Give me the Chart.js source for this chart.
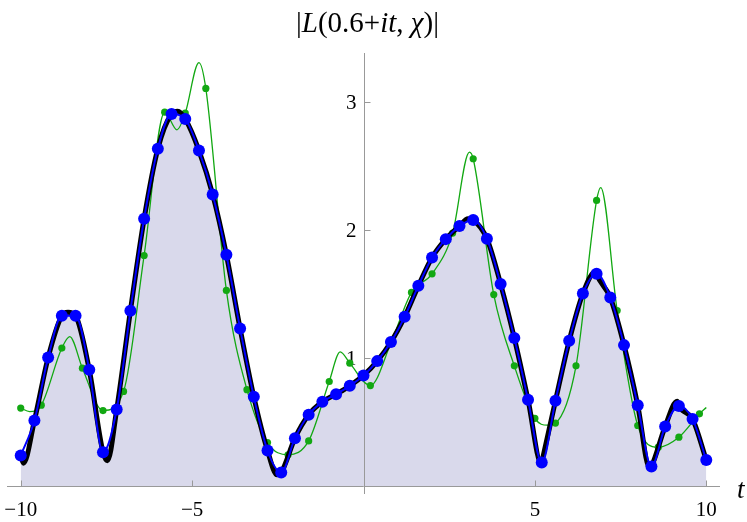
<!DOCTYPE html>
<html lang="en">
<head>
<meta charset="UTF-8">
<title>|L(0.6+it, χ)|</title>
<script src="https://cdn.jsdelivr.net/npm/chart.js"></script>
<style>
  body { margin: 0; background: #ffffff; }
  #wrap { width: 747px; height: 522px; position: relative; }
</style>
</head>
<body>
<div id="wrap"><canvas id="chart" width="747" height="522"></canvas></div>
<script>
// sample points on |L| (blue dots, step 0.4)
const blueT = [-10, -9.6, -9.2, -8.8, -8.4, -8.0, -7.6, -7.2, -6.8, -6.4,
               -6.0, -5.6, -5.2, -4.8, -4.4, -4.0, -3.6, -3.2, -2.8, -2.4,
               -2.0, -1.6, -1.2, -0.8, -0.4, 0, 0.4, 0.8, 1.2, 1.6,
               2.0, 2.4, 2.8, 3.2, 3.6, 4.0, 4.4, 4.8, 5.2, 5.6,
               6.0, 6.4, 6.8, 7.2, 7.6, 8.0, 8.4, 8.8, 9.2, 9.6, 10];
const blueV = [0.24, 0.514, 1.006, 1.332, 1.332, 0.91, 0.267, 0.60, 1.371, 2.09,
               2.637, 2.908, 2.869, 2.623, 2.28, 1.809, 1.233, 0.70, 0.28, 0.108,
               0.376, 0.559, 0.66, 0.72, 0.785, 0.866, 0.978, 1.127, 1.324, 1.566,
               1.788, 1.931, 2.033, 2.08, 1.934, 1.58, 1.158, 0.676, 0.186, 0.668,
               1.137, 1.506, 1.66, 1.475, 1.103, 0.634, 0.155, 0.467, 0.627, 0.525, 0.205];

// extra points read at the turning points of the black curve
const peakT = [-9.92, -8.62, -7.47, -5.42, -2.52, 3.05, 5.19, 6.78, 8.35, 9.15];
const peakV = [0.18, 1.36, 0.2, 2.93, 0.09, 2.09, 0.175, 1.68, 0.14, 0.665];

// approximation (green dots, step 0.6)
const greenT = [-10, -9.4, -8.8, -8.2, -7.6, -7.0, -6.4, -5.8, -5.2, -4.6,
                -4.0, -3.4, -2.8, -2.2, -1.6, -1.0, -0.4, 0.2, 0.8, 1.4,
                2.0, 2.6, 3.2, 3.8, 4.4, 5.0, 5.6, 6.2, 6.8, 7.4,
                8.0, 8.6, 9.2, 9.8];
const greenV = [0.611, 0.634, 1.08, 0.923, 0.592, 0.741, 1.803, 2.923, 2.916, 3.108,
                1.53, 0.755, 0.342, 0.246, 0.355, 0.819, 0.962, 0.787, 1.12, 1.515,
                1.66, 1.978, 2.559, 1.498, 0.941, 0.53, 0.494, 0.941, 2.233, 1.373,
                0.475, 0.306, 0.384, 0.566];
// turning points of the green curve between its dots
const greenExtraT = [-9.74, -8.57, -5.44, -4.8, -0.68, 3.09, 5.37, 6.92, 10];
const greenExtraV = [0.584, 1.17, 2.785, 3.31, 1.05, 2.61, 0.478, 2.334, 0.616];

const xTicks = [-10, -5, 5, 10];
const yTicks = [1, 2, 3];

function pts(ts, vs) {
  return ts.map((t, i) => ({ x: t, y: vs[i] }));
}
function merged(ta, va, tb, vb) {
  return pts(ta, va).concat(pts(tb, vb)).sort((a, b) => a.x - b.x);
}

const SERIF = '"Liberation Serif", "DejaVu Serif", serif';

// axes through the origin, Mathematica style
const axesPlugin = {
  id: 'originAxes',
  beforeDatasetsDraw(chart) {
    const { ctx, chartArea: a, scales: { x, y } } = chart;
    const x0 = Math.round(x.getPixelForValue(0)) + 0.5;
    const y0 = Math.round(y.getPixelForValue(0)) + 0.5;
    ctx.save();
    ctx.strokeStyle = '#999999';
    ctx.lineWidth = 1;
    ctx.beginPath();
    ctx.moveTo(a.left, y0); ctx.lineTo(a.right, y0);
    ctx.moveTo(x0, a.top); ctx.lineTo(x0, a.bottom);
    xTicks.forEach(v => {
      const px = Math.round(x.getPixelForValue(v)) + 0.5;
      ctx.moveTo(px, y0); ctx.lineTo(px, y0 - 6);
    });
    yTicks.forEach(v => {
      const py = Math.round(y.getPixelForValue(v)) + 0.5;
      ctx.moveTo(x0, py); ctx.lineTo(x0 + 6, py);
    });
    ctx.stroke();

    ctx.fillStyle = '#000000';
    ctx.font = '21px ' + SERIF;
    ctx.textAlign = 'center';
    ctx.textBaseline = 'alphabetic';
    xTicks.forEach(v => {
      const s = v < 0 ? '\u2212' + Math.abs(v) : String(v);
      ctx.fillText(s, x.getPixelForValue(v), y0 + 29);
    });
    ctx.textAlign = 'right';
    ctx.textBaseline = 'middle';
    yTicks.forEach(v => {
      ctx.fillText(String(v), x0 - 8, y.getPixelForValue(v) + 1);
    });
    ctx.textAlign = 'left';
    ctx.textBaseline = 'alphabetic';
    ctx.font = 'italic 27px ' + SERIF;
    ctx.fillText('t', a.right + 17, y0 + 11);
    ctx.restore();
  },
  afterDraw(chart) {
    const { ctx } = chart;
    const parts = [['|', false], ['L', true], ['(0.6+', false], ['it', true],
                   [', ', false], ['\u03c7', true], [')|', false]];
    const size = '29px ';
    ctx.save();
    ctx.fillStyle = '#000000';
    ctx.textBaseline = 'alphabetic';
    ctx.textAlign = 'left';
    let total = 0;
    parts.forEach(p => {
      ctx.font = (p[1] ? 'italic ' : '') + size + SERIF;
      total += ctx.measureText(p[0]).width;
    });
    let cx = chart.scales.x.getPixelForValue(0) + 4 - total / 2;
    parts.forEach(p => {
      ctx.font = (p[1] ? 'italic ' : '') + size + SERIF;
      ctx.fillText(p[0], cx, 32);
      cx += ctx.measureText(p[0]).width;
    });
    ctx.restore();
  }
};

new Chart(document.getElementById('chart'), {
  type: 'line',
  data: {
    datasets: [
      {
        label: 'blue dots',
        data: pts(blueT, blueV),
        showLine: false,
        pointRadius: 6,
        pointBackgroundColor: '#0000ff',
        pointBorderWidth: 0,
        order: 0
      },
      {
        label: 'blue line',
        data: pts(blueT, blueV),
        borderColor: '#0000ff',
        borderWidth: 2,
        pointRadius: 0,
        cubicInterpolationMode: 'monotone',
        order: 1
      },
      {
        label: '|L|',
        data: merged(blueT, blueV, peakT, peakV),
        borderColor: '#000000',
        borderWidth: 5,
        pointRadius: 0,
        cubicInterpolationMode: 'monotone',
        fill: 'origin',
        backgroundColor: '#d9d9eb',
        order: 2
      },
      {
        label: 'green dots',
        data: pts(greenT, greenV),
        showLine: false,
        pointRadius: 3.6,
        pointBackgroundColor: '#12a812',
        pointBorderWidth: 0,
        order: 3
      },
      {
        label: 'green line',
        data: merged(greenT, greenV, greenExtraT, greenExtraV),
        borderColor: '#12a812',
        borderWidth: 1.3,
        pointRadius: 0,
        cubicInterpolationMode: 'monotone',
        order: 4
      }
    ]
  },
  options: {
    responsive: false,
    animation: false,
    devicePixelRatio: 1,
    layout: { padding: { left: 7, right: 27, top: 53, bottom: 28 } },
    scales: {
      x: { type: 'linear', min: -10.4, max: 10.4, display: false },
      y: { type: 'linear', min: -0.06, max: 3.385, display: false }
    },
    plugins: {
      legend: { display: false },
      tooltip: { enabled: false },
      filler: { drawTime: 'beforeDatasetsDraw' }
    }
  },
  plugins: [axesPlugin]
});
</script>
</body>
</html>
